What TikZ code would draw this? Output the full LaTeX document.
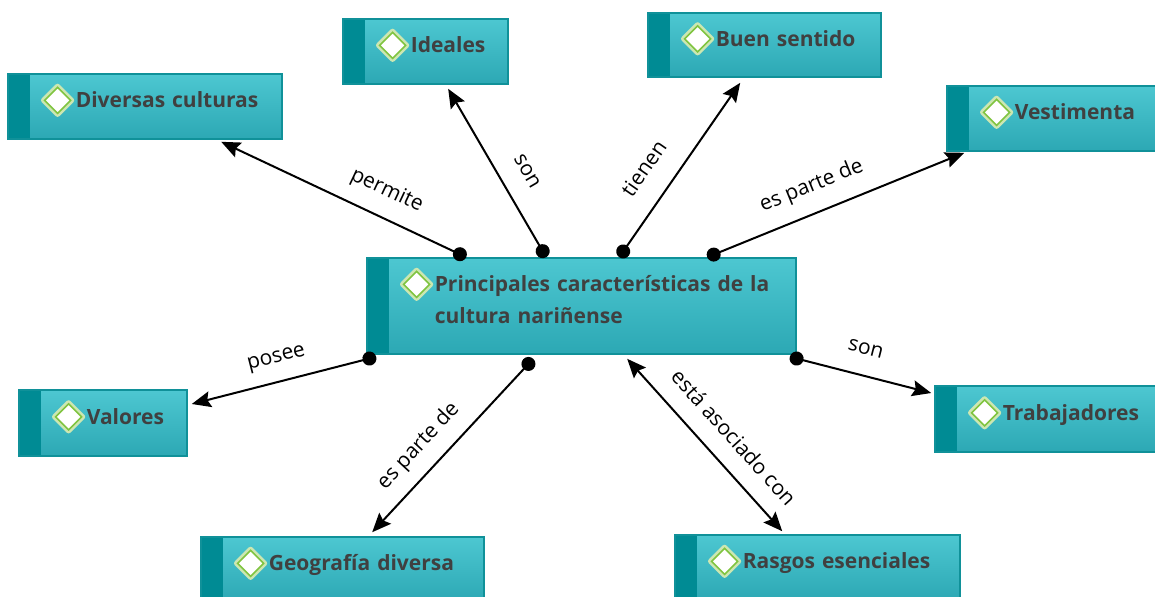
\documentclass[tikz,border=0pt]{standalone}
\usepackage{fontspec}
\setmainfont{Open Sans}
\usetikzlibrary{arrows.meta,calc,positioning}
\definecolor{boxtop}{RGB}{77,199,209}
\definecolor{boxbot}{RGB}{44,168,180}
\definecolor{boxline}{RGB}{16,145,153}
\definecolor{strip}{RGB}{0,139,148}
\definecolor{leafgreen}{RGB}{128,196,64}
\definecolor{textgray}{RGB}{64,64,64}
\tikzset{>=Latex}
\tikzset{
  concept/.style={draw=boxline, line width=0.8pt, top color=boxtop, bottom color=boxbot,
    inner xsep=0pt, inner ysep=0pt, align=left, text=textgray, text height=8pt, text depth=7pt,
    font=\bfseries\fontsize{10.5}{16}\selectfont,
    path picture={\fill[strip] (path picture bounding box.north west) rectangle ([xshift=11pt]path picture bounding box.south west);}},
  link/.style={line width=1pt, arrows={Circle[length=7pt]-Stealth[length=9.5pt,width=8pt,inset=1.5pt]}},
  twolink/.style={line width=1pt, arrows={Stealth[length=9.5pt,width=8pt,inset=1.5pt]-Stealth[length=9.5pt,width=8pt,inset=1.5pt]}},
  lbl/.style={sloped, above=8pt, font=\fontsize{10.5}{12}\selectfont, inner sep=0pt, text height=7pt, text depth=2pt}
}
\newcommand{\dmd}{\hspace*{16.5pt}\tikz[baseline=-3.6pt]{\draw[leafgreen!40,line width=2.6pt,line join=round] (0,7pt)--(7pt,0)--(0,-7pt)--(-7pt,0)--cycle; \filldraw[fill=white,draw=leafgreen,line width=0.8pt] (0,6.5pt)--(6.5pt,0)--(0,-6.5pt)--(-6.5pt,0)--cycle;}\hspace{0.8pt}}

\begin{document}
\begin{tikzpicture}[x=0.5pt,y=-0.5pt]
    \fill[white] (0,0) rectangle (1155,596);
    \useasboundingbox (0,0) rectangle (1155,596);
    % concepts
    \node[concept, text width=214.5pt, minimum height=48pt, text depth=22.5pt] (main) at (581.5,306) {\dmd\begin{tabular}[t]{@{}l@{}}Principales características de la\\cultura nariñense\end{tabular}};
    \node[concept, text width=137pt, minimum height=32.5pt] (cult) at (145,106.5) {\dmd Diversas culturas};
    \node[concept, text width=82.5pt, minimum height=32.5pt] (ide) at (425.5,51.5) {\dmd Ideales};
    \node[concept, text width=116.5pt, minimum height=32pt] (buen) at (764.5,45) {\dmd Buen sentido};
    \node[concept, text width=109pt, minimum height=32.5pt] (vest) at (1056,118.5) {\dmd Vestimenta};
    \node[concept, text width=84pt, minimum height=33pt] (val) at (103,423) {\dmd Valores};
    \node[concept, text width=115pt, minimum height=33pt] (trab) at (1050,419) {\dmd Trabajadores};
    \node[concept, text width=141.5pt, minimum height=32.5pt] (geo) at (342.5,569.5) {\dmd Geografía diversa};
    \node[concept, text width=142.5pt, minimum height=32.5pt] (ras) at (817.5,567.5) {\dmd Rasgos esenciales};
    % links
    \draw[link] ($(main.north west)+(100,0)$) -- node[lbl, pos=0.37] {permite} ($(cult.south west)+(214,2)$);
    \draw[link] ($(main.north west)+(180,0)$) -- node[lbl, pos=0.43] {son} ($(ide.south west)+(106,4)$);
    \draw[link] ($(main.north west)+(253,0)$) -- node[lbl, pos=0.41, above=9pt] {tienen} ($(buen.south west)+(93,5)$);
    \draw[link] ($(main.north west)+(341,0)$) -- node[lbl, pos=0.445] {es parte de} ($(vest.south west)+(18,1)$);
    \draw[link] ($(main.south west)+(10,2)$) -- node[lbl, pos=0.51, above=7pt] {posee} ($(val.east)+(4,-19)$);
    \draw[link] ($(main.south west)+(167,4)$) -- node[lbl, pos=0.6, above=7pt] {es parte de} ($(geo.north west)+(172,-4)$);
    \draw[twolink] ($(main.south west)+(261,4)$) -- node[lbl, pos=0.56, above=7pt] {está asociado con} ($(ras.north west)+(108,-3)$);
    \draw[link] ($(main.south east)+(-7,2)$) -- node[lbl, pos=0.49] {son} ($(trab.west)+(-3,-26)$);
\end{tikzpicture}
\end{document}
